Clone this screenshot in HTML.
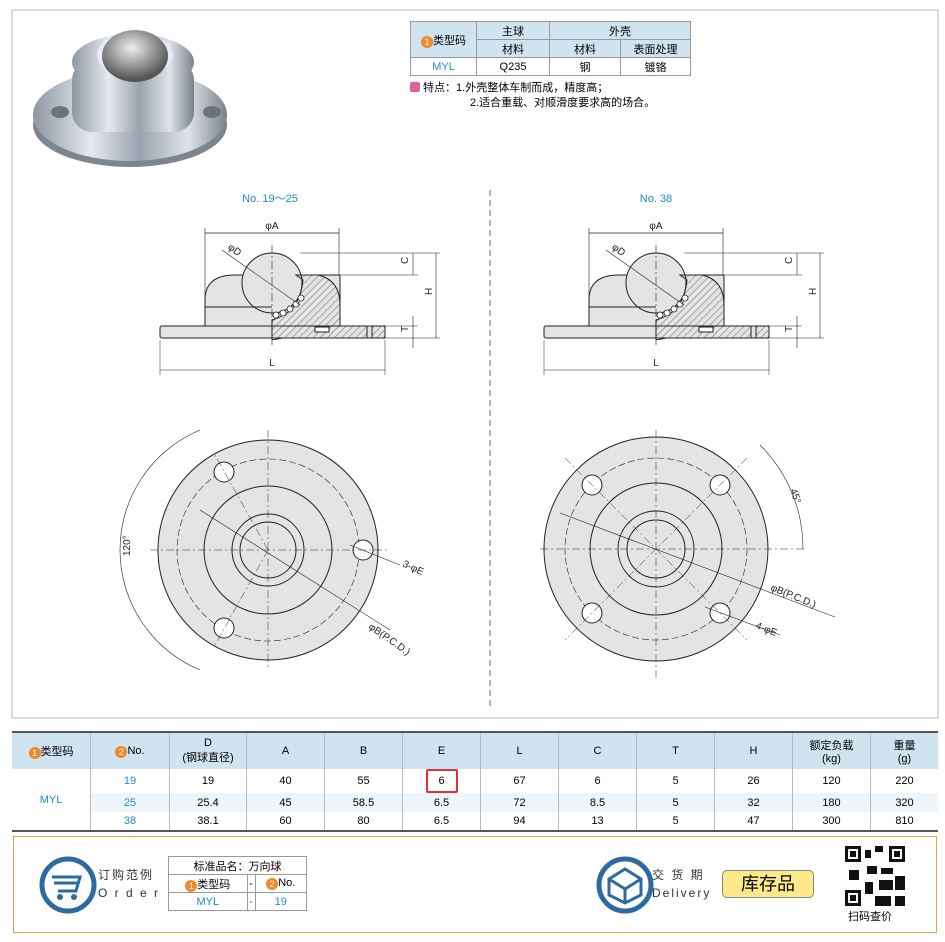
<!DOCTYPE html>
<html><head><meta charset="utf-8"><style>
body{margin:0;background:#fff;font-family:"Liberation Sans","Noto Sans CJK SC",sans-serif;}
.wrap{position:relative;width:945px;height:942px;overflow:hidden;}
table{border-collapse:collapse;position:absolute;font-size:11px;text-align:center;}
.t1 td{border:1px solid #999;height:17px;padding:0;}
.t1 .h{background:#cfe3f0;}
.blue{color:#1a8ad4;}
.num{display:inline-block;width:12px;height:12px;border-radius:6px;background:#f0892a;color:#fff;font-size:9px;line-height:12px;text-align:center;vertical-align:-1px;}
.t2 td{border-left:1px solid #bbb;padding:0;font-size:11px;}
.t2 tr.hd td{background:#cfe3f0;height:36px;}
</style></head><body><div class="wrap">
<svg style="position:absolute;left:0;top:0" width="945" height="720">
<defs>
<linearGradient id="g1" x1="0" y1="0" x2="1" y2="0"><stop offset="0" stop-color="#8d96a2"/><stop offset="0.3" stop-color="#e6eaf0"/><stop offset="0.55" stop-color="#9aa2ad"/><stop offset="0.8" stop-color="#dfe4ea"/><stop offset="1" stop-color="#7a828c"/></linearGradient>
<radialGradient id="g2" cx="45%" cy="35%" r="60%"><stop offset="0" stop-color="#eee"/><stop offset="1" stop-color="#555"/></radialGradient>
<pattern id="hat" width="5" height="5" patternUnits="userSpaceOnUse" patternTransform="rotate(45)"><line x1="0" y1="0" x2="0" y2="5" stroke="#333" stroke-width="0.7"/></pattern>
</defs>
<rect x="12" y="10" width="926" height="708" fill="none" stroke="#bbb"/>
<ellipse cx="130" cy="125" rx="97" ry="42" fill="#7d858f"/>
<ellipse cx="130" cy="115" rx="97" ry="46" fill="url(#g1)"/>
<rect x="72" y="60" width="122" height="72" rx="20" fill="url(#g1)"/>
<ellipse cx="133" cy="62" rx="61" ry="28" fill="url(#g1)"/>
<ellipse cx="135" cy="55" rx="38" ry="22" fill="#e8ecf0"/>
<ellipse cx="135" cy="56" rx="33" ry="26" fill="url(#g2)"/>
<ellipse cx="60" cy="112" rx="9" ry="6" fill="#6e737a"/>
<ellipse cx="212" cy="112" rx="9" ry="6" fill="#6e737a"/>
<line x1="490" y1="190" x2="490" y2="710" stroke="#666" stroke-dasharray="6,4"/>
<text x="270" y="202" font-size="11" fill="#1a8ad4" text-anchor="middle">No. 19～25</text>
<text x="656" y="202" font-size="11" fill="#1a8ad4" text-anchor="middle">No. 38</text>
<g id="side" stroke="#222" stroke-width="1" fill="none">
 <line x1="205" y1="233" x2="339" y2="233" stroke-width="0.7"/>
 <line x1="205" y1="228" x2="205" y2="300" stroke-width="0.6"/>
 <line x1="339" y1="228" x2="339" y2="300" stroke-width="0.6"/>
 <text x="272" y="229" font-size="10" fill="#222" stroke="none" text-anchor="middle">φA</text>
 <path d="M205,327 L205,300 Q205,275 235,275 L340,275 Q340,275 340,300 L340,327 Z" fill="#e4e4e4"/>
 <circle cx="272" cy="283" r="30" fill="#e4e4e4"/>
 <path d="M296,275 L318,275 Q340,280 340,305 L340,327 L272,340 L272,320 Q300,312 303,280 Z" fill="url(#hat)"/>
 <line x1="205" y1="307" x2="272" y2="307"/>
 <rect x="160" y="326" width="225" height="12" rx="2" fill="#e4e4e4"/>
 <rect x="272" y="326" width="95" height="12" fill="url(#hat)"/>
 <rect x="372" y="326" width="13" height="12" fill="url(#hat)"/>
 <g fill="#fff" stroke-width="0.8"><circle cx="276" cy="315" r="3"/><circle cx="283" cy="313" r="3"/><circle cx="290" cy="309" r="3"/><circle cx="296" cy="304" r="3"/><circle cx="301" cy="298" r="3"/></g>
 <rect x="315" y="327" width="14" height="5" fill="#fff"/>
 <line x1="272" y1="245" x2="272" y2="345" stroke-dasharray="8,3,2,3" stroke-width="0.6"/>
 <line x1="222" y1="250" x2="300" y2="305" stroke-width="0.6"/>
 <text x="228" y="250" font-size="10" fill="#222" stroke="none" transform="rotate(35 230 248)">φD</text>
 <line x1="300" y1="253" x2="440" y2="253" stroke-width="0.5"/>
 <line x1="340" y1="275" x2="418" y2="275" stroke-width="0.5"/>
 <line x1="385" y1="326" x2="418" y2="326" stroke-width="0.5"/>
 <line x1="385" y1="338" x2="440" y2="338" stroke-width="0.5"/>
 <line x1="413" y1="253" x2="413" y2="275" stroke-width="0.6"/>
 <line x1="413" y1="316" x2="413" y2="348" stroke-width="0.6"/>
 <line x1="436" y1="253" x2="436" y2="338" stroke-width="0.6"/>
 <text x="404" y="268" font-size="10" fill="#222" stroke="none" transform="rotate(-90 404 264)">C</text>
 <text x="428" y="299" font-size="10" fill="#222" stroke="none" transform="rotate(-90 428 295)">H</text>
 <text x="404" y="336" font-size="10" fill="#222" stroke="none" transform="rotate(-90 404 332)">T</text>
 <line x1="160" y1="340" x2="160" y2="375" stroke-width="0.5"/>
 <line x1="385" y1="340" x2="385" y2="375" stroke-width="0.5"/>
 <line x1="160" y1="370" x2="385" y2="370" stroke-width="0.6"/>
 <text x="272" y="366" font-size="10" fill="#222" stroke="none" text-anchor="middle">L</text>
</g>
<use href="#side" transform="translate(384,0)"/>
<g stroke="#222" fill="none">
 <circle cx="268" cy="550" r="110" fill="#e4e4e4"/>
 <circle cx="268" cy="550" r="91" stroke-dasharray="7,3" stroke-width="0.6"/>
 <circle cx="268" cy="550" r="64"/>
 <circle cx="268" cy="550" r="36"/>
 <circle cx="268" cy="550" r="28"/>
 <circle cx="363" cy="550" r="10" fill="#fff"/>
 <circle cx="224" cy="472" r="10" fill="#fff"/>
 <circle cx="224" cy="628" r="10" fill="#fff"/>
 <g stroke-width="0.5" stroke-dasharray="8,3,2,3"><line x1="150" y1="550" x2="390" y2="550"/><line x1="268" y1="430" x2="268" y2="670"/><line x1="268" y1="550" x2="215" y2="455"/><line x1="268" y1="550" x2="215" y2="645"/></g>
 <line x1="200" y1="510" x2="390" y2="630" stroke-width="0.6"/>
 <line x1="350" y1="545" x2="400" y2="565" stroke-width="0.6"/>
 <path d="M200,430 A130,130 0 0,0 200,670" stroke-width="0.6"/>
 <text x="402" y="566" font-size="10" fill="#222" stroke="none" transform="rotate(25 402 566)">3-φE</text>
 <text x="368" y="628" font-size="10" fill="#222" stroke="none" transform="rotate(35 368 628)">φB(P.C.D.)</text>
 <text x="126" y="560" font-size="10" fill="#222" stroke="none" transform="rotate(-90 126 556)">120°</text>
</g>
<g stroke="#222" fill="none">
 <circle cx="656" cy="549" r="112" fill="#e4e4e4"/>
 <circle cx="656" cy="549" r="91" stroke-dasharray="7,3" stroke-width="0.6"/>
 <circle cx="656" cy="549" r="66"/>
 <circle cx="656" cy="549" r="38"/>
 <circle cx="656" cy="549" r="29"/>
 <g fill="#fff"><circle cx="592" cy="485" r="10"/><circle cx="720" cy="485" r="10"/><circle cx="592" cy="613" r="10"/><circle cx="720" cy="613" r="10"/></g>
 <g stroke-width="0.5" stroke-dasharray="8,3,2,3"><line x1="540" y1="549" x2="805" y2="549"/><line x1="656" y1="430" x2="656" y2="680"/><line x1="565" y1="458" x2="747" y2="640"/><line x1="747" y1="458" x2="565" y2="640"/></g>
 <line x1="560" y1="513" x2="835" y2="617" stroke-width="0.6"/>
 <line x1="705" y1="607" x2="780" y2="635" stroke-width="0.6"/>
 <path d="M760,445 A146,146 0 0,1 803,549" stroke-width="0.6"/>
 <text x="790" y="490" font-size="10" fill="#222" stroke="none" transform="rotate(70 790 490)">45°</text>
 <text x="770" y="590" font-size="10" fill="#222" stroke="none" transform="rotate(22 770 590)">φB(P.C.D.)</text>
 <text x="755" y="628" font-size="10" fill="#222" stroke="none" transform="rotate(22 755 628)">4-φE</text>
</g>
</svg>
<table class="t1" style="left:410px;top:21px;width:281px;">
<tr><td class="h" rowspan="2" style="width:65px"><span class="num">1</span>类型码</td><td class="h" style="width:72px">主球</td><td class="h" colspan="2">外壳</td></tr>
<tr><td class="h">材料</td><td class="h" style="width:70px">材料</td><td class="h">表面处理</td></tr>
<tr><td class="blue">MYL</td><td>Q235</td><td>钢</td><td>镀铬</td></tr>
</table>
<div style="position:absolute;left:410px;top:81px;font-size:11px;line-height:15px;">
<span style="display:inline-block;width:10px;height:10px;background:#e0609a;border-radius:2px;vertical-align:-1px"></span> 特点：1.外壳整体车制而成，精度高；<br><span style="padding-left:60px">2.适合重载、对顺滑度要求高的场合。</span></div>
<table class="t2" style="left:12px;top:731px;width:926px;border-top:2px solid #555;border-bottom:2px solid #555;">
<tr class="hd"><td style="border-left:none;width:78px"><span class="num">1</span>类型码</td><td style="width:78px"><span class="num">2</span>No.</td><td style="width:76px">D<br>(钢球直径)</td><td style="width:77px">A</td><td style="width:77px">B</td><td style="width:77px">E</td><td style="width:77px">L</td><td style="width:77px">C</td><td style="width:77px">T</td><td style="width:77px">H</td><td style="width:77px">额定负载<br>(kg)</td><td>重量<br>(g)</td></tr>
<tr style="height:19px"><td rowspan="3" class="blue" style="border-left:none">MYL</td><td class="blue">19</td><td>19</td><td>40</td><td>55</td><td><span style="display:inline-block;border:2px solid #e53030;border-radius:2px;width:28px;height:20px;line-height:20px">6</span></td><td>67</td><td>6</td><td>5</td><td>26</td><td>120</td><td>220</td></tr>
<tr style="height:19px;background:#eef5fb"><td class="blue">25</td><td>25.4</td><td>45</td><td>58.5</td><td>6.5</td><td>72</td><td>8.5</td><td>5</td><td>32</td><td>180</td><td>320</td></tr>
<tr style="height:19px"><td class="blue">38</td><td>38.1</td><td>60</td><td>80</td><td>6.5</td><td>94</td><td>13</td><td>5</td><td>47</td><td>300</td><td>810</td></tr>
</table>
<div style="position:absolute;left:13px;top:836px;width:922px;height:95px;border:1px solid #f0a040;"></div>
<svg style="position:absolute;left:38px;top:855px" width="60" height="60"><circle cx="30" cy="30" r="26" fill="none" stroke="#2d6aa0" stroke-width="5"/><path d="M14,22 L42,22 L38,36 L20,36 M16,28 L40,28" stroke="#2d6aa0" stroke-width="3" fill="none"/><circle cx="22" cy="42" r="3" fill="#2d6aa0"/><circle cx="36" cy="42" r="3" fill="#2d6aa0"/></svg>
<div style="position:absolute;left:98px;top:866px;font-size:12px;color:#333;letter-spacing:2px;line-height:18px">订购范例<br>O r d e r</div>
<table class="t1" style="left:168px;top:856px;width:139px;font-size:11px;">
<tr><td colspan="3">标准品名：万向球</td></tr>
<tr><td><span class="num">1</span>类型码</td><td>-</td><td><span class="num">2</span>No.</td></tr>
<tr><td class="blue">MYL</td><td class="blue">-</td><td class="blue">19</td></tr>
</table>
<svg style="position:absolute;left:595px;top:855px" width="60" height="60"><circle cx="30" cy="30" r="26" fill="none" stroke="#2d6aa0" stroke-width="5"/><path d="M14,24 L30,14 L46,24 L46,40 L30,48 L14,40 Z M14,24 L30,34 L46,24 M30,34 L30,48" stroke="#2d6aa0" stroke-width="3" fill="none"/></svg>
<div style="position:absolute;left:652px;top:866px;font-size:12px;color:#333;letter-spacing:2px;line-height:18px">交 货 期<br>Delivery</div>
<div style="position:absolute;left:722px;top:870px;width:90px;height:26px;background:#fde98a;border:1px solid #888;border-radius:5px;font-size:18px;text-align:center;line-height:26px">库存品</div>
<svg style="position:absolute;left:845px;top:846px" width="60" height="60"><rect width="60" height="60" fill="#fff"/><g fill="#111"><rect x="0" y="0" width="16" height="16"/><rect x="44" y="0" width="16" height="16"/><rect x="0" y="44" width="16" height="16"/><rect x="20" y="4" width="6" height="8"/><rect x="30" y="0" width="8" height="6"/><rect x="22" y="20" width="10" height="8"/><rect x="36" y="22" width="12" height="6"/><rect x="4" y="24" width="10" height="10"/><rect x="20" y="36" width="8" height="12"/><rect x="34" y="34" width="14" height="10"/><rect x="50" y="30" width="10" height="14"/><rect x="30" y="50" width="16" height="10"/><rect x="50" y="50" width="10" height="10"/></g><g fill="#fff"><rect x="3" y="3" width="10" height="10"/><rect x="47" y="3" width="10" height="10"/><rect x="3" y="47" width="10" height="10"/></g><g fill="#111"><rect x="5" y="5" width="6" height="6"/><rect x="49" y="5" width="6" height="6"/><rect x="5" y="49" width="6" height="6"/></g></svg>
<div style="position:absolute;left:848px;top:908px;font-size:11px">扫码查价</div>
</div></body></html>
